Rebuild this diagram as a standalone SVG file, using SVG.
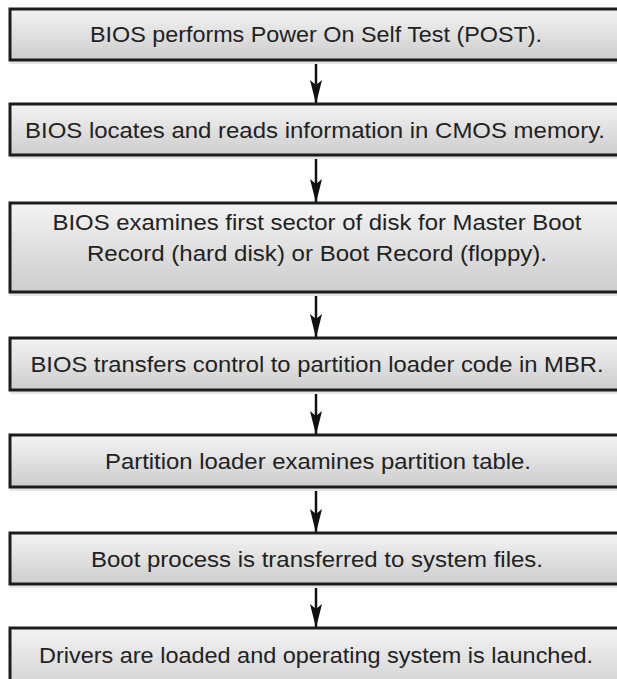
<svg xmlns="http://www.w3.org/2000/svg" width="617" height="679" viewBox="0 0 617 679">
<style>
.box{fill:url(#g);stroke:#1c1c1c;stroke-width:3}
.sh{fill:#e6e6e6}
.t{font-family:"Liberation Sans",Arial,sans-serif;font-size:22px;fill:#222;text-anchor:middle}
.c{stroke:#111;stroke-width:2.5;fill:none;marker-end:url(#ah)}
</style>
<defs>
<linearGradient id="g" x1="0" y1="0" x2="0" y2="1">
<stop offset="0" stop-color="#f3f3f3"/>
<stop offset="1" stop-color="#cdcdcd"/>
</linearGradient>
<marker id="ah" viewBox="0 0 24 12" refX="24" refY="6" markerWidth="24" markerHeight="12" markerUnits="userSpaceOnUse" orient="auto">
<path d="M0,0 L24,6 L0,12 L5,6 Z" fill="#111"/>
</marker>
</defs>
<rect width="617" height="679" fill="#fff"/>
<g id="connectors">
<path class="c" d="M316,61.5 V104"/>
<path class="c" d="M316,156.5 V203"/>
<path class="c" d="M316,293.5 V338"/>
<path class="c" d="M316,391.5 V435"/>
<path class="c" d="M316,488.5 V533"/>
<path class="c" d="M316,585.5 V628"/>
</g>
<g id="n1">
<rect class="sh" x="10" y="61" width="615" height="3"/>
<rect class="box" x="10" y="9" width="615" height="51"/>
<text class="t" x="316" y="41.5" textLength="452" lengthAdjust="spacingAndGlyphs">BIOS performs Power On Self Test (POST).</text>
</g>
<g id="n2">
<rect class="sh" x="10" y="156" width="615" height="3"/>
<rect class="box" x="10" y="104" width="615" height="51"/>
<text class="t" x="315" y="138" textLength="580" lengthAdjust="spacingAndGlyphs">BIOS locates and reads information in CMOS memory.</text>
</g>
<g id="n3">
<rect class="sh" x="10" y="293" width="615" height="3"/>
<rect class="box" x="10" y="203" width="615" height="89"/>
<text class="t" x="317" y="230" textLength="529" lengthAdjust="spacingAndGlyphs">BIOS examines first sector of disk for Master Boot</text>
<text class="t" x="317" y="260.5" textLength="460" lengthAdjust="spacingAndGlyphs">Record (hard disk) or Boot Record (floppy).</text>
</g>
<g id="n4">
<rect class="sh" x="10" y="391" width="615" height="3"/>
<rect class="box" x="10" y="338" width="615" height="52"/>
<text class="t" x="317" y="372" textLength="573" lengthAdjust="spacingAndGlyphs">BIOS transfers control to partition loader code in MBR.</text>
</g>
<g id="n5">
<rect class="sh" x="10" y="488" width="615" height="3"/>
<rect class="box" x="10" y="435" width="615" height="52"/>
<text class="t" x="318" y="468.5" textLength="426" lengthAdjust="spacingAndGlyphs">Partition loader examines partition table.</text>
</g>
<g id="n6">
<rect class="sh" x="10" y="585" width="615" height="3"/>
<rect class="box" x="10" y="533" width="615" height="51"/>
<text class="t" x="317" y="566.5" textLength="452" lengthAdjust="spacingAndGlyphs">Boot process is transferred to system files.</text>
</g>
<g id="n7">
<rect class="box" x="10" y="628" width="615" height="70"/>
<text class="t" x="316" y="663" textLength="554" lengthAdjust="spacingAndGlyphs">Drivers are loaded and operating system is launched.</text>
</g>
</svg>
